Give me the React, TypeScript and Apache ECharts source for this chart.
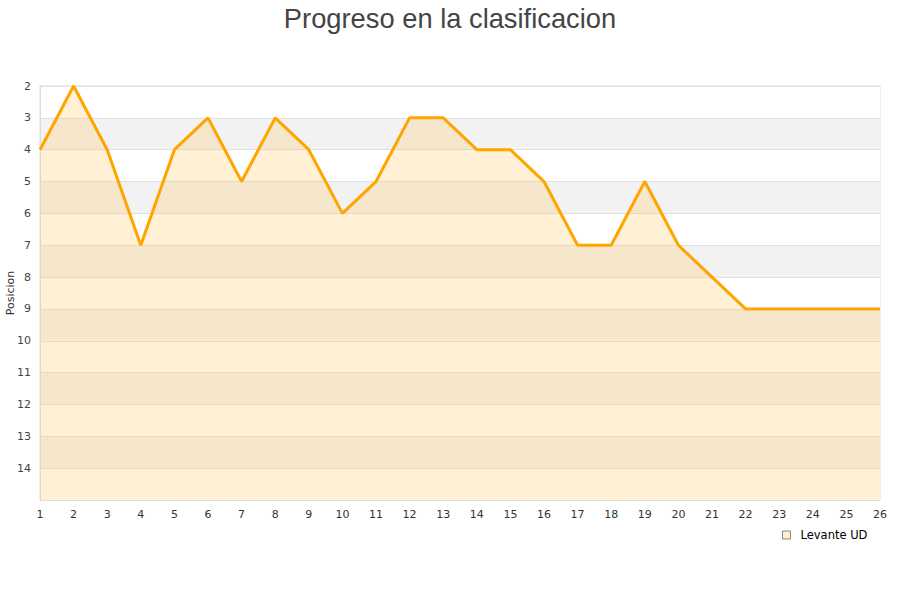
import React, { useEffect, useRef } from "react";
import * as echarts from "echarts";

const jornadas = ["1","2","3","4","5","6","7","8","9","10","11","12","13","14","15","16","17","18","19","20","21","22","23","24","25","26"];
const posiciones = [4, 2, 4, 7, 4, 3, 5, 3, 4, 6, 5, 3, 3, 4, 4, 5, 7, 7, 5, 7, 8, 9, 9, 9, 9, 9];
const teamName = "Levante UD";
const chartTitle = "Progreso en la clasificacion";
const yAxisName = "Posicion";

export default function App() {
  const ref = useRef<HTMLDivElement>(null);
  useEffect(() => {
    if (!ref.current) return;
    const chart = echarts.init(ref.current, null, { renderer: "svg" });
    const font = "Liberation Sans, Arial, sans-serif";
    chart.setOption({
      animation: false,
      backgroundColor: "#ffffff",
      textStyle: { fontFamily: "DejaVu Sans, Verdana, sans-serif" },
      title: {
        text: chartTitle,
        left: "center",
        top: 0,
        textStyle: { fontSize: 27.3, fontWeight: "normal", color: "#444444", fontFamily: font },
      },
      legend: {
        data: [teamName],
        left: 782,
        top: 529,
        padding: 0,
        icon: "rect",
        itemWidth: 8,
        itemHeight: 8,
        itemGap: 6,
        itemStyle: { color: "#ffeecc", borderColor: "#888888", borderWidth: 1 },
        textStyle: { fontSize: 11.5, color: "#000000", padding: [0, 0, 0, 5] },
      },
      grid: {
        left: 40,
        right: 20,
        top: 86,
        bottom: 100,
        containLabel: false,
        outerBoundsMode: "none",
        show: true,
        borderColor: "#dddddd",
        borderWidth: 1,
        backgroundColor: "transparent",
      },
      xAxis: {
        type: "category",
        data: jornadas,
        boundaryGap: false,
        axisLine: { show: true, lineStyle: { color: "#dddddd" } },
        axisTick: { show: false },
        axisLabel: { color: "#333333", fontSize: 11, margin: 9 },
        splitLine: { show: false },
      },
      yAxis: {
        type: "value",
        inverse: true,
        min: 2,
        max: 15,
        interval: 1,
        name: yAxisName,
        nameLocation: "middle",
        nameGap: 24,
        nameMoveOverlap: false,
        nameRotate: 90,
        nameTextStyle: { fontSize: 11, color: "#333333" },
        axisLine: { show: true, lineStyle: { color: "#dddddd" } },
        axisTick: { show: false },
        axisLabel: {
          color: "#444444",
          fontSize: 11,
          margin: 9,
          formatter: (v: number) => (v === 15 ? "" : String(v)),
        },
        splitLine: { show: true, lineStyle: { color: "#e0e0e0", width: 1 } },
        splitArea: { show: true, areaStyle: { color: ["#ffffff", "#f2f2f2"] } },
      },
      series: [
        {
          name: teamName,
          type: "line",
          data: posiciones,
          symbol: "none",
          lineStyle: { color: "#ffa500", width: 3 },
          itemStyle: { color: "#ffeecc" },
          areaStyle: { color: "rgba(255,196,90,0.36)", origin: "end" },
        },
      ],
    });
    return () => chart.dispose();
  }, []);
  return (
    <div
      ref={ref}
      style={{ position: "fixed", left: 0, top: 0, width: 900, height: 600 }}
    />
  );
}
